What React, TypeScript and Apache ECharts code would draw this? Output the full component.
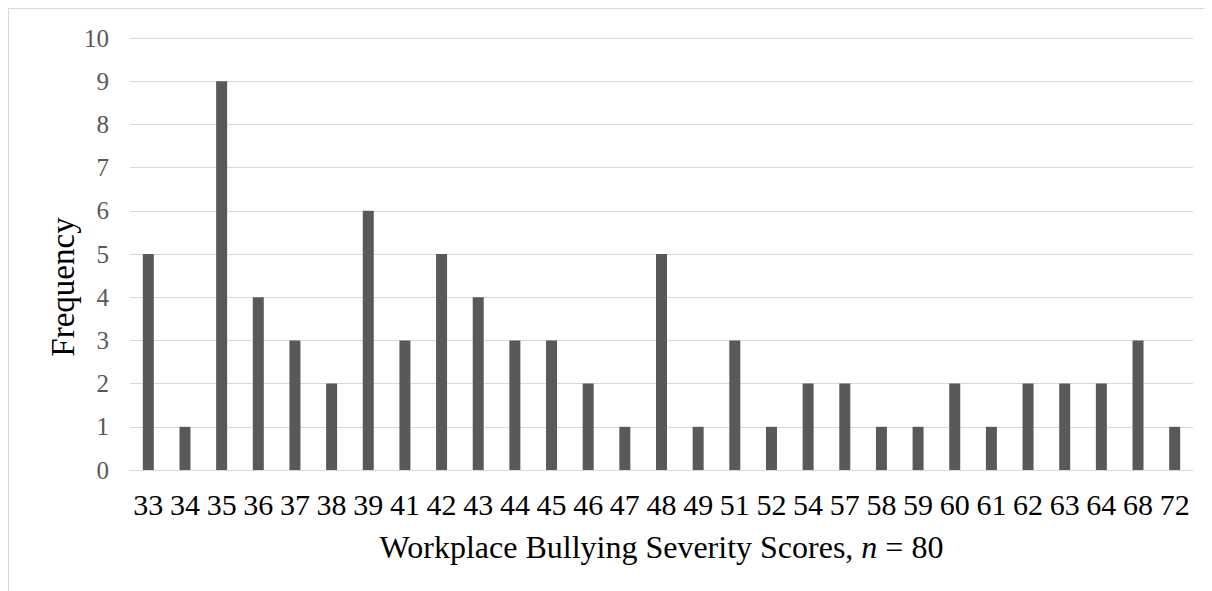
import React, { useEffect, useRef } from "react";
import * as echarts from "echarts";

const scores = ["33","34","35","36","37","38","39","41","42","43","44","45","46","47","48","49","51","52","54","57","58","59","60","61","62","63","64","68","72"];
const frequency = [5,1,9,4,3,2,6,3,5,4,3,3,2,1,5,1,3,1,2,2,1,1,2,1,2,2,2,3,1];
const xTitle = "Workplace Bullying Severity Scores, {i|n} = 80";
const yTitle = "Frequency";

export default function App() {
  const ref = useRef<HTMLDivElement>(null);
  useEffect(() => {
    document.body.style.overflow = "hidden";
    const chart = echarts.init(ref.current!, null, { renderer: "svg" });
    const font = "'Liberation Serif', 'Times New Roman', serif";
    chart.setOption({
      animation: false,
      grid: { left: 121, right: 19, top: 29, bottom: 121, containLabel: false },
      xAxis: {
        type: "category",
        data: scores,
        axisLine: { show: true, lineStyle: { color: "#d9d9d9", width: 1 } },
        axisTick: { show: false },
        axisLabel: { color: "#000", fontFamily: font, fontSize: 30, margin: 19, interval: 0 },
        name: xTitle,
        nameLocation: "middle",
        nameGap: 61,
        nameTextStyle: {
          color: "#000", fontFamily: font, fontSize: 32,
          rich: { i: { fontStyle: "italic", fontFamily: font, fontSize: 32, color: "#000" } },
        },
      },
      yAxis: {
        type: "value",
        min: 0,
        max: 10,
        interval: 1,
        axisLine: { show: false },
        axisTick: { show: false },
        splitLine: { lineStyle: { color: "#d9d9d9", width: 1 } },
        axisLabel: { color: "#595959", fontFamily: font, fontSize: 25, margin: 21 },
      },
      graphic: [
        {
          type: "text",
          x: 54,
          y: 278,
          rotation: Math.PI / 2,
          style: {
            text: yTitle,
            fontFamily: font,
            fontSize: 33,
            fill: "#000",
            align: "center",
            verticalAlign: "middle",
          },
        },
      ],
      series: [
        {
          type: "bar",
          data: frequency,
          barWidth: 11,
          itemStyle: { color: "#595959" },
        },
      ],
    });
    return () => chart.dispose();
  }, []);
  return (
    <div style={{ width: 1204, height: 583, borderLeft: "1px solid #d9d9d9", borderTop: "1px solid #d9d9d9", boxSizing: "border-box" }}>
      <div ref={ref} style={{ width: 1203, height: 582 }} />
    </div>
  );
}
